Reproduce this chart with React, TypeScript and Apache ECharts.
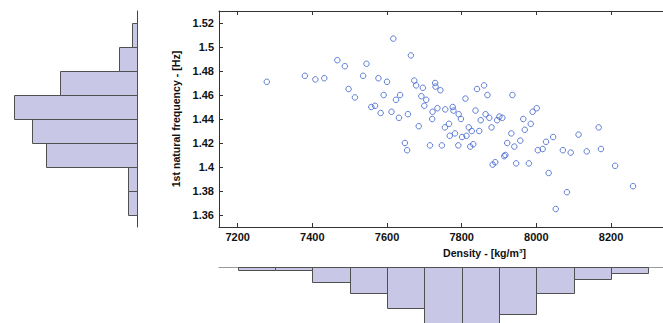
import React, { useEffect, useRef } from "react";
import * as echarts from "echarts";

// Scatter data: density [kg/m^3] and 1st natural frequency [Hz]
const density = [
  7278, 7380, 7408, 7432, 7467, 7487, 7497, 7514, 7536, 7545,
  7558, 7568, 7577, 7583, 7591, 7600, 7612, 7617, 7624, 7632,
  7635, 7656, 7664, 7673, 7678, 7685, 7692, 7696, 7700, 7705,
  7648, 7654, 7715, 7721, 7722, 7729, 7730, 7735, 7743, 7747,
  7755, 7756, 7766, 7768, 7776, 7778, 7782, 7791, 7792, 7798,
  7801, 7810, 7813, 7819, 7823, 7827, 7831, 7837, 7841, 7847,
  7851, 7860, 7864, 7869, 7874, 7880, 7883, 7890, 7895, 7901,
  7909, 7914, 7917, 7922, 7933, 7936, 7941, 7946, 7957, 7965,
  7969, 7980, 7985, 7990, 8001, 8004, 8017, 8026, 8033, 8045,
  8052, 8071, 8082, 8092, 8113, 8135, 8167, 8173, 8211, 8259,
];
const frequency = [
  1.471, 1.476, 1.473, 1.474, 1.489, 1.484, 1.465, 1.458, 1.476, 1.486,
  1.450, 1.451, 1.474, 1.445, 1.460, 1.471, 1.446, 1.507, 1.456, 1.441,
  1.460, 1.444, 1.493, 1.472, 1.468, 1.434, 1.459, 1.466, 1.451, 1.456,
  1.420, 1.414, 1.418, 1.440, 1.446, 1.470, 1.467, 1.449, 1.464, 1.418,
  1.433, 1.448, 1.436, 1.426, 1.450, 1.447, 1.428, 1.418, 1.444, 1.440,
  1.425, 1.457, 1.426, 1.433, 1.417, 1.430, 1.419, 1.447, 1.465, 1.430,
  1.439, 1.468, 1.444, 1.460, 1.441, 1.433, 1.402, 1.404, 1.439, 1.442,
  1.441, 1.409, 1.410, 1.420, 1.428, 1.460, 1.417, 1.403, 1.422, 1.440,
  1.431, 1.403, 1.436, 1.446, 1.449, 1.414, 1.415, 1.421, 1.395, 1.425,
  1.365, 1.414, 1.379, 1.412, 1.427, 1.413, 1.433, 1.415, 1.401, 1.384,
];

// Histogram of frequency (left panel): bin edges and counts (bottom -> top)
const freqBinEdges = [1.36, 1.38, 1.4, 1.42, 1.44, 1.46, 1.48, 1.5, 1.52];
const freqCounts = [2, 2, 20, 23, 27, 17, 4, 1];

// Histogram of density (bottom panel): bin edges and counts
const densityBinEdges = [7200, 7300, 7400, 7500, 7600, 7700, 7800, 7900, 8000, 8100, 8200, 8300];
const densityCounts = [1, 1, 5, 9, 14, 21, 22, 16, 9, 4, 2];

// Tick values
const densityTicks = [7200, 7400, 7600, 7800, 8000, 8200];
const freqTicks = [1.36, 1.38, 1.4, 1.42, 1.44, 1.46, 1.48, 1.5, 1.52];

const FONT = "'Liberation Sans', Arial, Helvetica, sans-serif";
const BAR_FILL = "#c8c8e6";
const BAR_EDGE = "#505050";

export default function App() {
  const ref = useRef<HTMLDivElement>(null);

  useEffect(() => {
    if (!ref.current) return;
    const chart = echarts.init(ref.current, undefined, { renderer: "svg" });

    const scatterData = density.map((d, i) => [d, frequency[i]]);
    const freqHist = freqCounts.map((c, i) => [freqBinEdges[i], freqBinEdges[i + 1], c]);
    const densHist = densityCounts.map((c, i) => [densityBinEdges[i], densityBinEdges[i + 1], c]);

    // The main box continues past the right edge of the picture; the axis keeps
    // 200 kg/m^3 per 74.67 px, so a 500 px wide grid spans 7150..~8489.
    const pxPerUnit = 74.67 / 200;
    const gridW = 500;
    const xMin = 7150, xMax = 7150 + gridW / pxPerUnit, yMin = 1.35, yMax = 1.53;
    const nameCenterOffset = (443 - 219) - gridW / 2; // keep axis name centred at x≈443
    const axisColor = "#333";

    const yFmt = (v: number) => String(+v.toFixed(2));
    const xFmt = (v: number) => String(Math.round(v));

    const rectItem = (p1: number[], p2: number[]) => {
      const x = Math.round(Math.min(p1[0], p2[0])) + 0.5;
      const y = Math.round(Math.min(p1[1], p2[1])) + 0.5;
      const x2 = Math.round(Math.max(p1[0], p2[0])) + 0.5;
      const y2 = Math.round(Math.max(p1[1], p2[1])) + 0.5;
      return {
        type: "rect",
        shape: { x, y, width: x2 - x, height: y2 - y },
        style: { fill: BAR_FILL, stroke: BAR_EDGE, lineWidth: 1 },
      };
    };

    const tickLabel = { fontSize: 11, fontWeight: "bold", color: "#111", fontFamily: FONT };
    const nameStyle = { fontSize: 10.6, fontWeight: "bold", color: "#111", fontFamily: FONT };

    chart.setOption({
      animation: false,
      backgroundColor: "#fff",
      textStyle: { fontFamily: FONT },
      grid: [
        { left: 219, top: 11, width: gridW, height: 216 },
        { left: 0, top: 11, width: 137, height: 216 },
        { left: 219, top: 267, width: gridW, height: 80 },
      ],
      xAxis: [
        {
          gridIndex: 0, type: "value", min: xMin, max: xMax, position: "bottom",
          axisLine: { show: true, lineStyle: { color: axisColor, width: 1 } },
          axisTick: { show: true, inside: true, length: 4, customValues: densityTicks, lineStyle: { color: axisColor } },
          axisLabel: { show: true, customValues: densityTicks, margin: 4, ...tickLabel, formatter: xFmt },
          splitLine: { show: false },
        },
        {
          gridIndex: 0, type: "value", min: xMin, max: xMax, position: "top",
          axisLine: { show: true, lineStyle: { color: axisColor, width: 1 } },
          axisTick: { show: true, inside: true, length: 4, customValues: densityTicks, lineStyle: { color: axisColor } },
          axisLabel: { show: false },
          splitLine: { show: false },
        },
        {
          gridIndex: 1, type: "value", min: 0, max: 137 / 4.55, inverse: true, show: false,
          splitLine: { show: false },
        },
        {
          gridIndex: 2, type: "value", min: xMin, max: xMax, position: "top",
          axisLine: { show: true, lineStyle: { color: "#9a9a9a", width: 1 } },
          axisTick: { show: false }, axisLabel: { show: false }, splitLine: { show: false },
        },
      ],
      yAxis: [
        {
          gridIndex: 0, type: "value", min: yMin, max: yMax, position: "left",
          name: "1st natural frequency - [Hz]", nameLocation: "middle", nameGap: 35,
          nameTextStyle: nameStyle,
          axisLine: { show: true, lineStyle: { color: axisColor, width: 1 } },
          axisTick: { show: true, inside: true, length: 4, customValues: freqTicks, lineStyle: { color: axisColor } },
          axisLabel: { show: true, customValues: freqTicks, margin: 5, ...tickLabel, formatter: yFmt },
          splitLine: { show: false },
        },
        {
          gridIndex: 1, type: "value", min: yMin, max: yMax, position: "right",
          axisLine: { show: true, lineStyle: { color: "#444", width: 1 } },
          axisTick: { show: false }, axisLabel: { show: false }, splitLine: { show: false },
        },
        {
          gridIndex: 2, type: "value", min: 0, max: 80 / 2.93, inverse: true, show: false,
          splitLine: { show: false },
        },
      ],
      graphic: [
        {
          type: "text",
          left: 219 + gridW / 2 + nameCenterOffset,
          top: 247,
          style: {
            text: "Density - [kg/m³]",
            fill: "#111",
            font: `bold 10.6px ${FONT}`,
            textAlign: "center",
          },
        },
      ],
      series: [
        {
          type: "scatter", xAxisIndex: 0, yAxisIndex: 0, data: scatterData,
          symbol: "circle", symbolSize: 5.5,
          itemStyle: { color: "rgba(0,0,0,0)", borderColor: "#3a5fcc", borderWidth: 1 },
          emphasis: { disabled: true },
        },
        {
          type: "custom", xAxisIndex: 2, yAxisIndex: 1, data: freqHist,
          encode: { x: 2, y: [0, 1] },
          renderItem: (params: any, api: any) =>
            rectItem(api.coord([0, api.value(0)]), api.coord([api.value(2), api.value(1)])),
        },
        {
          type: "custom", xAxisIndex: 3, yAxisIndex: 2, data: densHist,
          encode: { x: [0, 1], y: 2 },
          renderItem: (params: any, api: any) =>
            rectItem(api.coord([api.value(0), 0]), api.coord([api.value(1), api.value(2)])),
        },
      ],
    });

    return () => chart.dispose();
  }, []);

  return (
    <div
      ref={ref}
      style={{ position: "fixed", left: 0, top: 0, width: 760, height: 360, background: "#fff" }}
    />
  );
}
